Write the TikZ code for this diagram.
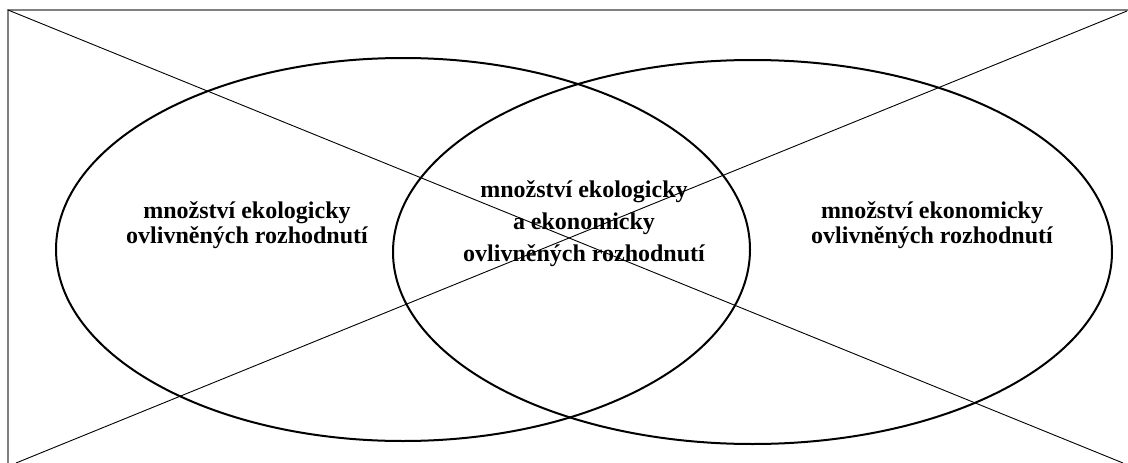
\documentclass[tikz,border=0pt]{standalone}
\usepackage{fontspec}
\setmainfont{Liberation Serif}
\usetikzlibrary{shapes.geometric}
\begin{document}
\begin{tikzpicture}[x=1pt,y=-1pt,
  frameline/.style={draw=black!50, line width=2pt},
  diag/.style={draw=black, line width=0.9pt},
  setellipse/.style={ellipse, draw=black, line width=2pt, inner sep=0pt},
  lbl/.style={align=center, font=\bfseries\fontsize{24}{25}\selectfont, inner sep=0pt},
  midlbl/.style={align=center, font=\bfseries\fontsize{24}{32}\selectfont, inner sep=0pt}]
\useasboundingbox (0,0) rectangle (1128,463);
\coordinate (tl) at (8,10);
\coordinate (tr) at (1128,10);
\coordinate (bl) at (8,463);
\coordinate (d1e) at (1123,463);
\coordinate (d2s) at (16,463);
\coordinate (d2e) at (1127,11);
\draw[frameline] (bl) -- (tl) -- (tr);
\draw[diag] (tl) -- (d1e);
\draw[diag] (d2s) -- (d2e);
\node[setellipse, minimum width=694pt, minimum height=383pt] (eco) at (403,249.5) {};
\node[setellipse, minimum width=719pt, minimum height=384pt] (econ) at (752.5,252) {};
\node[lbl] (t1) at (247,225) {množství ekologicky\\ovlivněných rozhodnutí};
\node[midlbl] (t2) at (584,224) {množství ekologicky\\a ekonomicky\\ovlivněných rozhodnutí};
\node[lbl] (t3) at (932,225) {množství ekonomicky\\ovlivněných rozhodnutí};
\end{tikzpicture}
\end{document}
